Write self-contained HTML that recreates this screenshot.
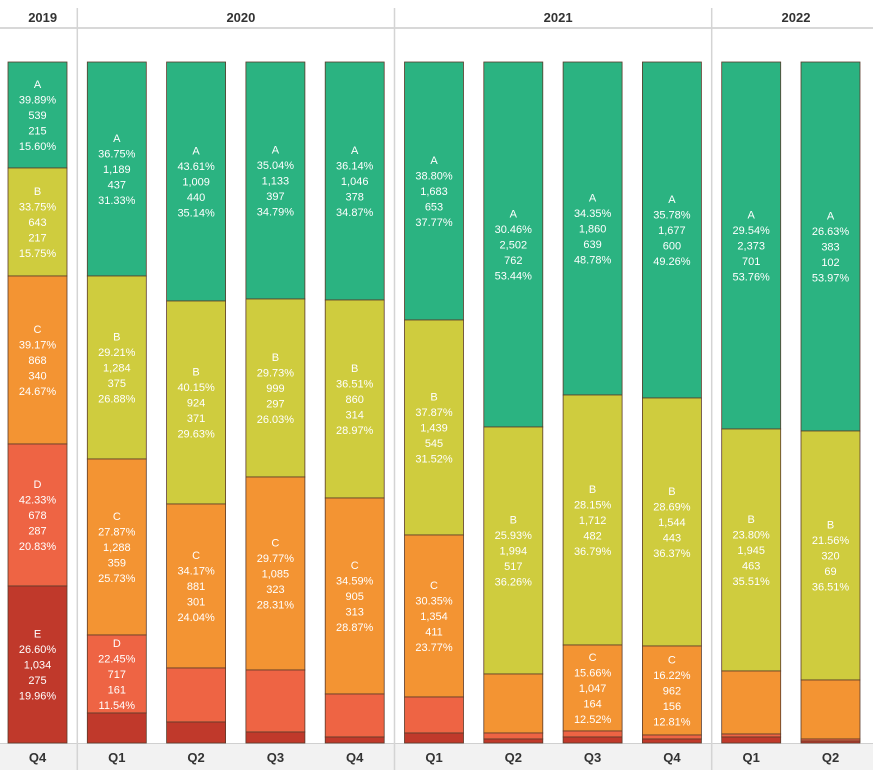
<!DOCTYPE html>
<html><head><meta charset="utf-8"><style>
body{margin:0;background:#fff;font-family:"Liberation Sans",sans-serif}
svg{display:block}
</style></head><body>
<svg id="chart" width="873" height="770" xmlns="http://www.w3.org/2000/svg"></svg>
<script>
const years=["2019","2020","2021","2022"];
const yearSpans=[1,4,4,2];
const quarters=["Q4","Q1","Q2","Q3","Q4","Q1","Q2","Q3","Q4","Q1","Q2"];
const seriesNames=["A","B","C","D","E"];
const valA=[106,214,239,237,238,258,365,333,336,367,369];
const valB=[108,183,203,178,198,215,247,250,248,242,249];
const valC=[168,176,164,193,196,162,59,86,89,63,59];
const valD=[142,78,54,62,43,36,6,6,4,3,2];
const valE=[157,30,21,11,6,10,4,6,4,6,2];
const labA=["39.89%|539|215|15.60%","36.75%|1,189|437|31.33%","43.61%|1,009|440|35.14%","35.04%|1,133|397|34.79%","36.14%|1,046|378|34.87%","38.80%|1,683|653|37.77%","30.46%|2,502|762|53.44%","34.35%|1,860|639|48.78%","35.78%|1,677|600|49.26%","29.54%|2,373|701|53.76%","26.63%|383|102|53.97%"];
const labB=["33.75%|643|217|15.75%","29.21%|1,284|375|26.88%","40.15%|924|371|29.63%","29.73%|999|297|26.03%","36.51%|860|314|28.97%","37.87%|1,439|545|31.52%","25.93%|1,994|517|36.26%","28.15%|1,712|482|36.79%","28.69%|1,544|443|36.37%","23.80%|1,945|463|35.51%","21.56%|320|69|36.51%"];
const labC=["39.17%|868|340|24.67%","27.87%|1,288|359|25.73%","34.17%|881|301|24.04%","29.77%|1,085|323|28.31%","34.59%|905|313|28.87%","30.35%|1,354|411|23.77%","","15.66%|1,047|164|12.52%","16.22%|962|156|12.81%","",""];
const labD=["42.33%|678|287|20.83%","22.45%|717|161|11.54%","","","","","","","","",""];
const labE=["26.60%|1,034|275|19.96%","","","","","","","","","",""];
const colors=["#2bb381","#cfcc3e","#f39433","#ee6444","#c0392b"];
const NS="http://www.w3.org/2000/svg";
const svg=document.getElementById("chart");
function mk(t,a,p){const e=document.createElementNS(NS,t);for(const k in a)e.setAttribute(k,a[k]);(p||svg).appendChild(e);return e;}
const top0=62,bot=743,H=bot-top0;
const x0=8,step=79.3,bw=59;
function xPos(i){return x0+i*step;}
function yScale(f){return top0+f*H;}
mk("rect",{x:0,y:743,width:873,height:27,fill:"#f2f2f2"});
mk("line",{x1:0,y1:28,x2:873,y2:28,stroke:"#d8d8d8","stroke-width":2});
mk("line",{x1:0,y1:743.5,x2:873,y2:743.5,stroke:"#d0d0d0"});
let c=0;
years.forEach((y,j)=>{
  const xs=xPos(c)-8, xe=xPos(c+yearSpans[j])-10;
  const t=mk("text",{x:(xs+xe)/2+4,y:22,"text-anchor":"middle","font-size":13,"font-weight":"bold",fill:"#333"});
  t.textContent=y;
  
  
  if(j>0){mk("line",{x1:xs-2,y1:8,x2:xs-2,y2:770,stroke:"#d4d4d4","stroke-width":1.5});}
  c+=yearSpans[j];
});
const vals=[valA,valB,valC,valD,valE];
const labs=[labA,labB,labC,labD,labE];
quarters.forEach((q,i)=>{
  const tot=vals.reduce((s,v)=>s+v[i],0);
  let cum=0;
  vals.forEach((v,s)=>{
    const y1=yScale(cum/tot), y2=yScale((cum+v[i])/tot);
    cum+=v[i];
    const r=mk("rect",{x:xPos(i),y:y1,width:bw,height:y2-y1,fill:colors[s],stroke:"#5a3a2a","stroke-width":0.8});
    
    
    const lab=labs[s][i];
    if(lab){
      const lines=[seriesNames[s]].concat(lab.split("|"));
      const cy=(y1+y2)/2, st=cy-(lines.length-1)*15.5/2;
      lines.forEach((ln,k)=>{
        const t=mk("text",{x:xPos(i)+bw/2,y:st+k*15.5+4,"text-anchor":"middle","font-size":11,fill:"#fff"});
        t.textContent=ln;
        
        
      });
    }
  });
  const t=mk("text",{x:xPos(i)+bw/2,y:762,"text-anchor":"middle","font-size":13,"font-weight":"bold",fill:"#333"});
  t.textContent=q;
  
  
});
</script>
</body></html>
